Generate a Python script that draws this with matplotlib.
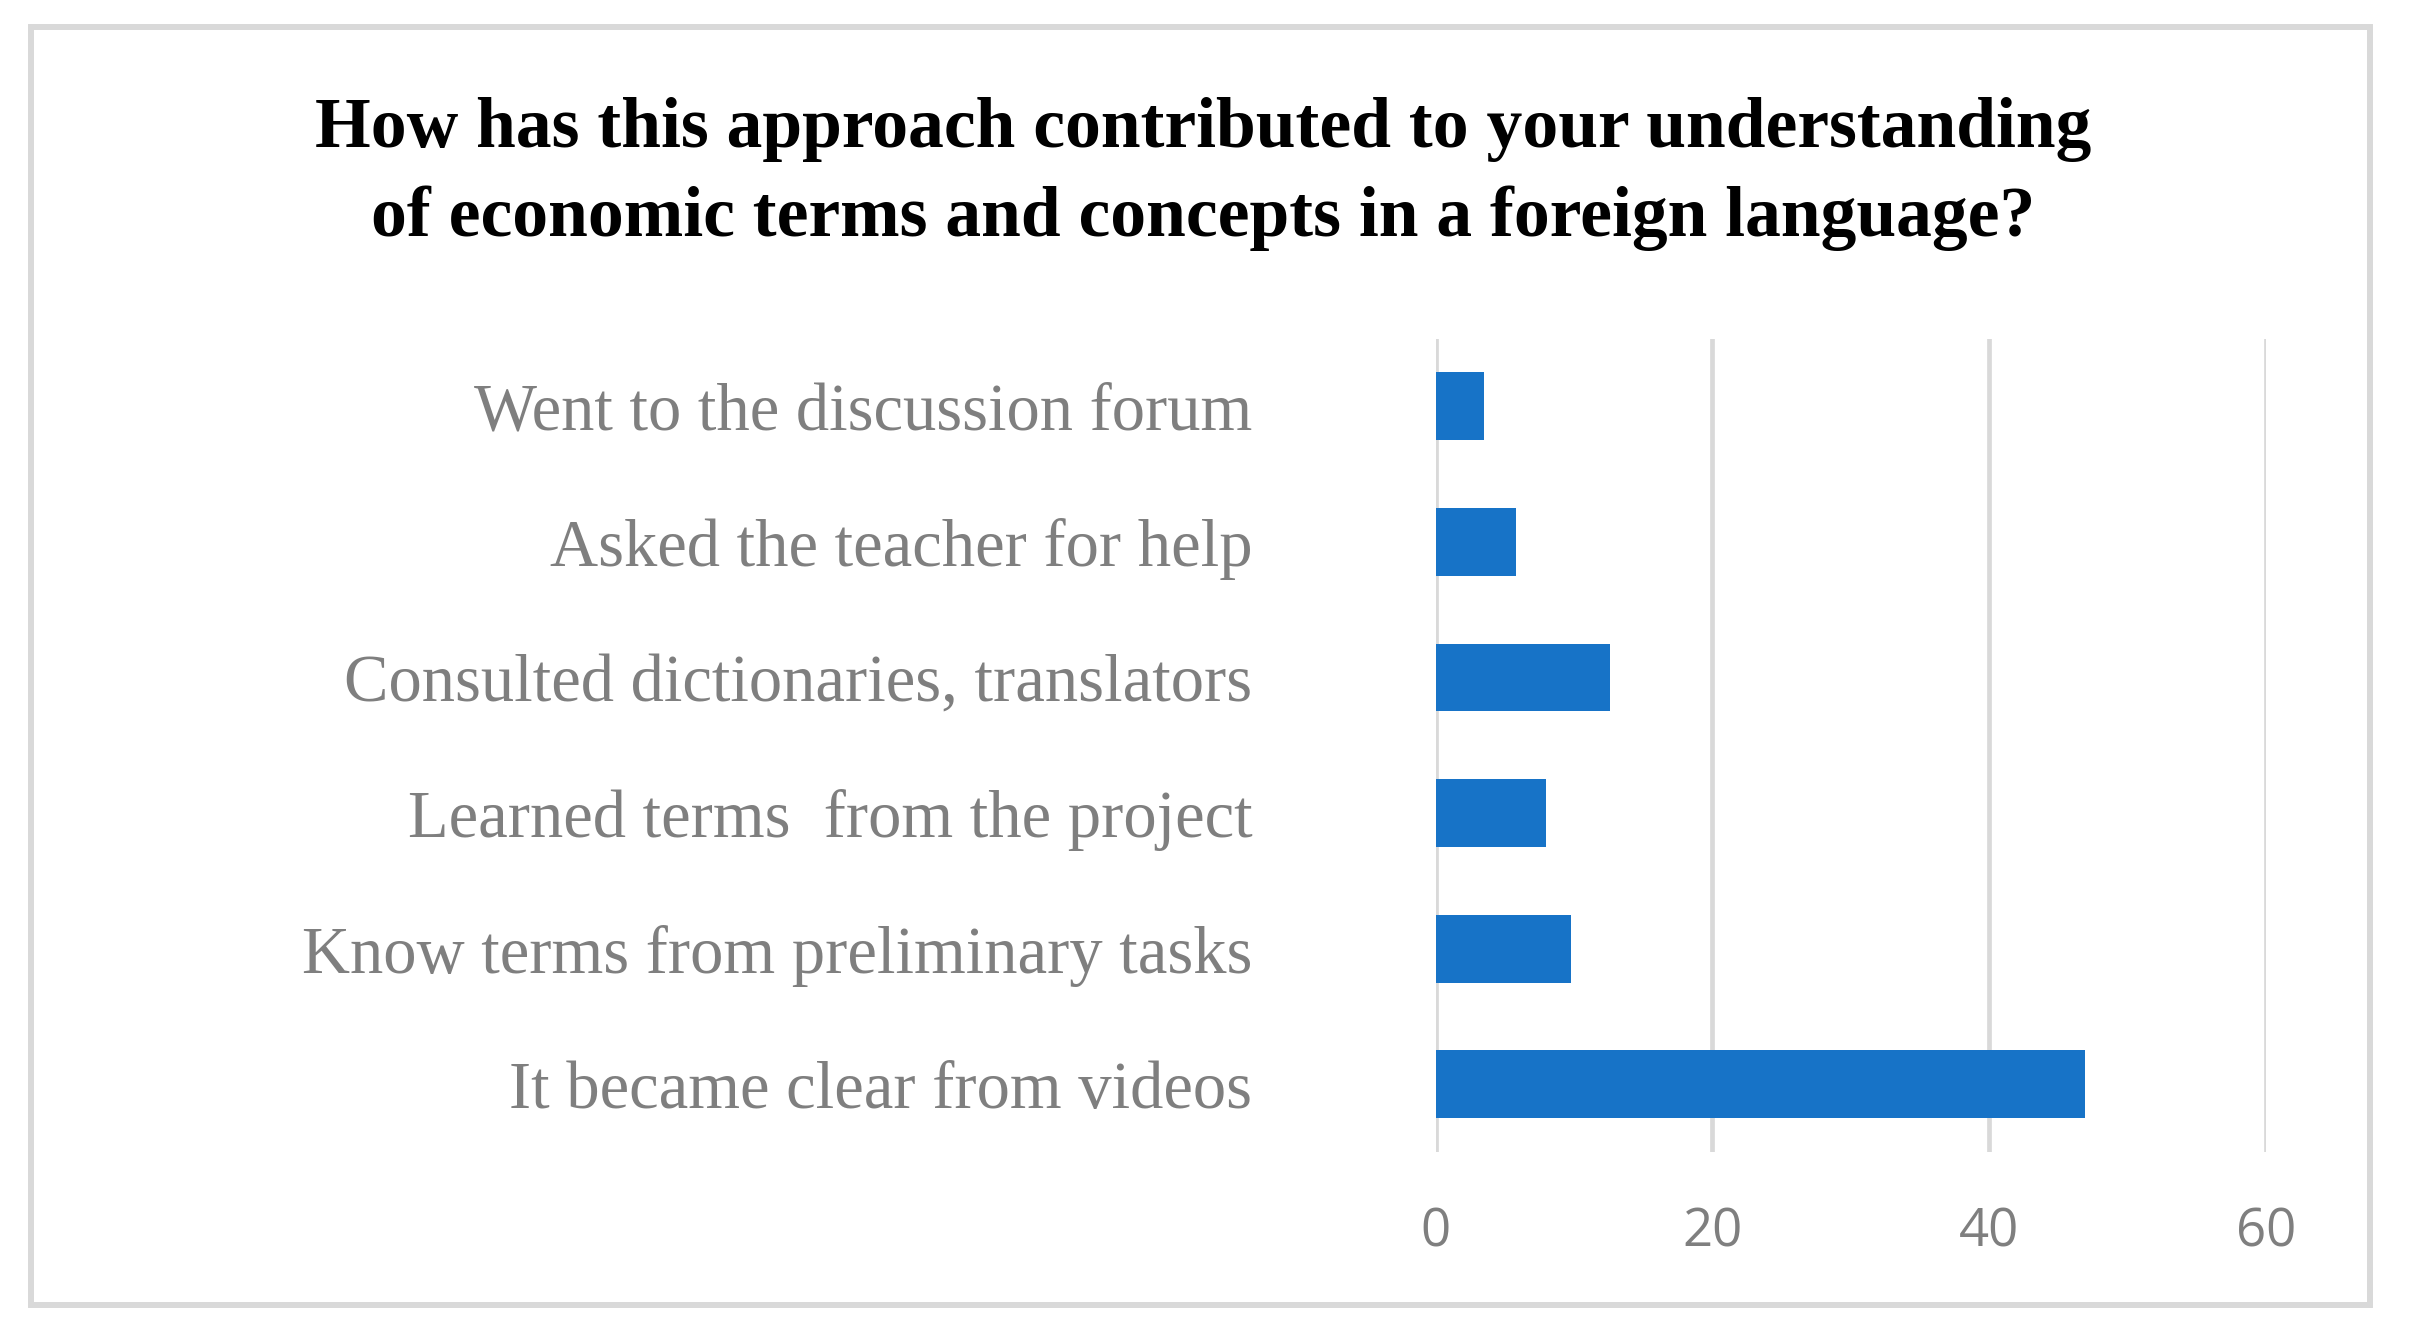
import matplotlib.pyplot as plt
from matplotlib.patches import Rectangle

# Survey answers, bottom to top as drawn
categories = [
    "It became clear from videos",
    "Know terms from preliminary tasks",
    "Learned terms  from the project",
    "Consulted dictionaries, translators",
    "Asked the teacher for help",
    "Went to the discussion forum",
]
values = [46.9, 9.8, 8.0, 12.6, 5.8, 3.5]
xticks = [0, 20, 40, 60]

title = ("How has this approach contributed to your understanding\n"
         "of economic terms and concepts in a foreign language?")

bar_color = "#1773c7"
grid_color = "#d9d9d9"
text_gray = "#7f7f7f"

fig = plt.figure(figsize=(24.09, 13.38), dpi=100)
ax = fig.add_axes([0.596, 0.139, 0.3446, 0.608])

ax.barh(range(len(categories)), values, height=0.5, color=bar_color, zorder=3)

ax.set_xlim(0, 60)
ax.set_ylim(-0.5, len(categories) - 0.5)
ax.set_xticks(xticks)
ax.set_xticklabels([str(t) for t in xticks], fontsize=38, color=text_gray,
                   family="Open Sans")
ax.set_yticks(range(len(categories)))
ax.set_yticklabels(categories, fontsize=48, color=text_gray,
                   family="Liberation Serif")
ax.tick_params(axis="y", length=0, pad=132)
ax.tick_params(axis="x", length=0, pad=39)

for s in ax.spines.values():
    s.set_visible(False)
ax.grid(axis="x", color=grid_color, linewidth=3.4, zorder=0)
ax.grid(axis="y", visible=False)

fig.text(0.4995, 0.870, title, ha="center", va="center", fontsize=51.5,
         fontweight="bold", family="Liberation Serif", linespacing=1.45)

# light grey frame around the chart
fig.patches.append(Rectangle((31 / 2409, 1 - 1305 / 1338),
                             (2370 - 31) / 2409, (1305 - 27) / 1338,
                             transform=fig.transFigure, fill=False,
                             edgecolor=grid_color, linewidth=4.3))

fig.savefig("out.png", dpi=100, facecolor="white")
